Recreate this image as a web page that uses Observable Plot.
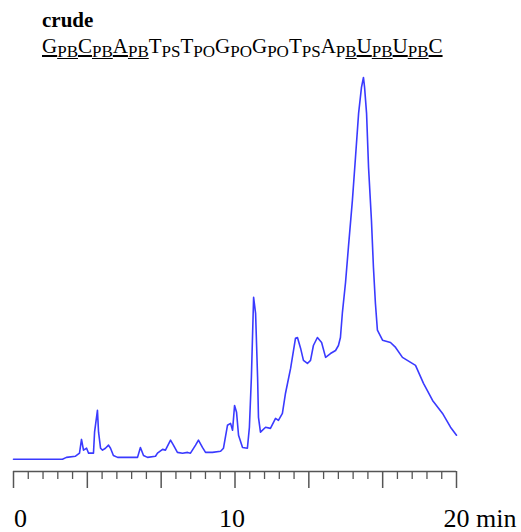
<!DOCTYPE html>
<html>
<head>
<meta charset="utf-8">
<script src="https://cdn.jsdelivr.net/npm/d3@7"></script>
<script src="https://cdn.jsdelivr.net/npm/@observablehq/plot@0.6"></script>
<style>
  html, body { margin: 0; padding: 0; background: #fff; }
  #wrap { position: relative; width: 521px; height: 532px; overflow: hidden; font-family: "Liberation Serif", "Times New Roman", serif; color: #000; }
  #title { position: absolute; left: 42px; top: 10px; font-size: 21px; line-height: 21px; font-weight: bold; }
  #seq { position: absolute; left: 42px; top: 36px; font-size: 21px; line-height: 21px; white-space: nowrap; }
  #seq sub { font-size: 17px; vertical-align: baseline; position: relative; top: 4px; }
  #chart { position: absolute; left: 0; top: 66px; }
</style>
</head>
<body>
<div id="wrap">
  <div id="title">crude</div>
  <div id="seq"><u>G</u><sub><u>PB</u></sub><u>C</u><sub><u>PB</u></sub><u>A</u><sub><u>PB</u></sub>T<sub>PS</sub>T<sub>PO</sub>G<sub>PO</sub>G<sub>PO</sub>T<sub>PS</sub>A<sub>P<u>B</u></sub><u>U</u><sub><u>PB</u></sub><u>U</u><sub><u>PB</u></sub><u>C</u></div>
  <div id="chart"></div>
</div>
<script>
// HPLC trace of the crude oligonucleotide: retention time (min) vs. absorbance (relative, peak = 100)
const time = [
  0.00, 2.21, 2.39, 2.80, 2.98, 3.07, 3.16, 3.30, 3.39, 3.61,
  3.66, 3.79, 3.84, 3.93, 4.02, 4.15, 4.29, 4.38, 4.51, 4.70,
  5.60, 5.73, 5.87, 6.05, 6.41, 6.50, 6.73, 6.86, 7.09, 7.22,
  7.40, 7.63, 7.86, 7.99, 8.22, 8.35, 8.53, 8.67, 8.98, 9.35,
  9.48, 9.66, 9.80, 9.89, 9.98, 10.07, 10.16, 10.34, 10.56, 10.65,
  10.74, 10.84, 10.93, 11.02, 11.06, 11.15, 11.38, 11.60, 11.83, 11.96,
  12.14, 12.28, 12.51, 12.73, 12.82, 12.96, 13.09, 13.27, 13.41, 13.54,
  13.72, 13.91, 14.09, 14.31, 14.54, 14.67, 14.76, 14.85, 14.99, 15.12,
  15.30, 15.44, 15.58, 15.71, 15.80, 15.85, 15.94, 16.03, 16.16, 16.25,
  16.34, 16.43, 16.66, 17.02, 17.25, 17.56, 18.15, 18.51, 18.92, 19.37,
  19.73, 20.00
];
const signal = [
  0, 0, 0.5, 0.8, 1.6, 5.2, 2.4, 2.9, 1.6, 1.6,
  7.1, 12.8, 7.1, 2.9, 2.4, 2.9, 3.7, 2.9, 1.0, 0.5,
  0.5, 3.1, 1.0, 0.5, 0.8, 1.6, 2.6, 2.4, 5.0, 3.7,
  1.8, 1.6, 1.8, 1.6, 3.7, 5.0, 3.1, 1.8, 1.8, 2.1,
  2.9, 8.9, 9.4, 7.6, 14.1, 12.3, 6.3, 3.1, 2.9, 8.4,
  21.5, 42.4, 38.2, 21.5, 11.0, 7.1, 8.4, 8.1, 10.7, 10.2,
  12.0, 17.3, 23.8, 31.7, 31.9, 29.1, 25.9, 25.1, 25.9, 29.8,
  31.9, 30.6, 26.7, 27.7, 28.5, 29.8, 31.9, 38.5, 46.3, 55.5,
  67.8, 79.1, 90.6, 97.4, 100, 97.4, 90.6, 76.4, 62.6, 50.3,
  40.8, 33.8, 31.2, 30.6, 29.3, 26.7, 24.6, 19.9, 15.4, 12.0,
  8.4, 6.3
];

// Axis: ticks every 2/3 min, a long tick every fifth one; labels at 0, 10, 20
const tickStep = 2 / 3;
const allTicks = d3.range(0, 31).map(i => i * tickStep);
const majorTicks = allTicks.filter((d, i) => i % 5 === 0);
const minorTicks = allTicks.filter((d, i) => i % 5 !== 0);
const tickLabels = [
  {t: 0, label: "0", dx: 7},
  {t: 10, label: "10", dx: -3},
  {t: 20, label: "20 min", dx: -13}
];

const trace = time.map((t, i) => ({t, v: signal[i]}));

const yFloor = -3.2; // axis line sits a little below the baseline
const serif = "Liberation Serif";

const labelMark = ({t, label, dx}) =>
  Plot.text([{t, label}], {
    x: "t", text: "label",
    frameAnchor: "bottom", lineAnchor: "bottom",
    textAnchor: label.includes(" ") ? "start" : "middle",
    dx, dy: 55,
    fontSize: 26, fontFamily: serif, fill: "#000"
  });

const chart = Plot.plot({
  width: 521,
  height: 466,
  marginLeft: 13,
  marginRight: 65,
  marginTop: 11,
  marginBottom: 61,
  style: {fontFamily: serif, background: "transparent"},
  x: {domain: [0, 20], axis: null},
  y: {domain: [yFloor, 100], axis: null},
  marks: [
    Plot.ruleY([yFloor], {stroke: "#555", strokeWidth: 1.3}),
    Plot.axisX(minorTicks, {tickSize: 8, tickFormat: () => "", stroke: "#555", strokeWidth: 1.3, label: null}),
    Plot.axisX(majorTicks, {tickSize: 17, tickFormat: () => "", stroke: "#555", strokeWidth: 1.5, label: null}),
    ...tickLabels.map(labelMark),
    Plot.line(trace, {x: "t", y: "v", stroke: "#3a3aff", strokeWidth: 1.6})
  ]
});
document.getElementById("chart").appendChild(chart);
</script>
</body>
</html>
